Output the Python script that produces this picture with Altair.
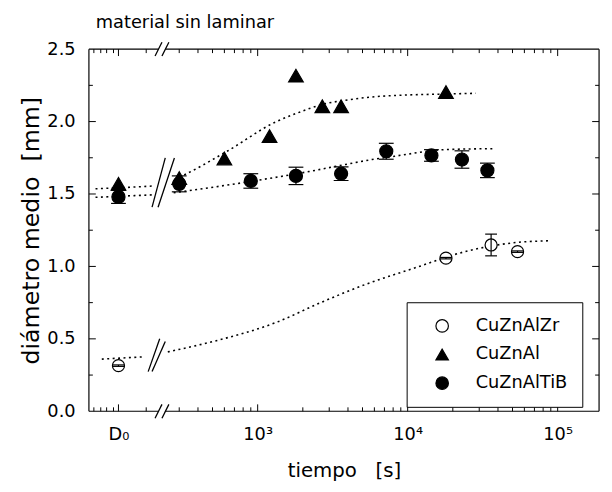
import math
import altair as alt
import pandas as pd

# ---------------- layout of the broken log axis ----------------
W, H = 517, 367
X_DOMAIN = [1.875, 5.276]      # log10(t) axis units
Y_DOMAIN = [0.0, 2.5]
D0_POS = 2.072                 # position of the "D0" column on the axis
GAP = [2.339, 2.385]           # gap in the frame lines at the axis break

SERIES = ["CuZnAlZr", "CuZnAl", "CuZnAlTiB"]

# ---------------- measured points (t in s, 0 = D0) ----------------
ZR_T = [0, 18000, 36000, 54000]
ZR_D = [0.315, 1.057, 1.148, 1.102]
ZR_E = [0.005, 0.005, 0.075, 0.005]

AL_T = [0, 300, 600, 1200, 1800, 2700, 3600, 18000]
AL_D = [1.57, 1.61, 1.745, 1.90, 2.317, 2.106, 2.106, 2.204]

TIB_T = [0, 300, 900, 1800, 3600, 7200, 14400, 23000, 34000]
TIB_D = [1.48, 1.57, 1.59, 1.625, 1.64, 1.795, 1.766, 1.738, 1.663]
TIB_E = [0.045, 0.055, 0.05, 0.06, 0.047, 0.055, 0.04, 0.06, 0.05]

# ---------------- dotted fit curves (axis position, value) ----------------
AL_FIT_L_X = [1.919, 2.118, 2.316]
AL_FIT_L_Y = [1.536, 1.545, 1.556]
AL_FIT_R_X = [2.445, 2.487, 2.796, 3.125, 3.257, 3.454, 3.586, 3.763, 3.914, 4.243, 4.454]
AL_FIT_R_Y = [1.60, 1.62, 1.795, 2.00, 2.056, 2.124, 2.147, 2.17, 2.18, 2.19, 2.195]

TIB_FIT_L_X = [1.919, 2.118, 2.316]
TIB_FIT_L_Y = [1.477, 1.486, 1.495]
TIB_FIT_R_X = [2.44, 2.906, 3.342, 3.586, 3.763, 3.914, 4.243, 4.572]
TIB_FIT_R_Y = [1.508, 1.579, 1.655, 1.704, 1.738, 1.761, 1.806, 1.813]

ZR_FIT_L_X = [1.961, 2.1, 2.248]
ZR_FIT_L_Y = [0.36, 0.368, 0.376]
ZR_FIT_R_X = [2.401, 2.730, 3.125, 3.42, 3.717, 4.046, 4.375, 4.704, 4.947]
ZR_FIT_R_Y = [0.41, 0.489, 0.614, 0.75, 0.875, 0.989, 1.10, 1.163, 1.177]

# ---------------- break marks (x1, y1, x2, y2) in axis units ----------------
CURVE_BREAKS = [
    (2.296, 1.409, 2.384, 1.749),
    (2.336, 1.409, 2.445, 1.749),
    (2.270, 0.274, 2.347, 0.501),
    (2.296, 0.274, 2.384, 0.482),
]
AXIS_BREAK_X = [(2.316, 2.362), (2.362, 2.408)]
AXIS_BREAK_DY = 0.0477

# ---------------- axis ticks ----------------
X_LABEL_POS = [D0_POS, 3, 4, 5]
X_MAJOR = [D0_POS, 3, 4, 5]
X_MINOR_D0 = [1.908, 1.954, 1.993, 2.039, 2.257]
X_MINOR_T = [300, 400, 500, 600, 700, 800, 900,
             2000, 3000, 4000, 5000, 6000, 7000, 8000, 9000,
             20000, 30000, 40000, 50000, 60000, 70000, 80000, 90000]
Y_LABELS = [0.0, 0.5, 1.0, 1.5, 2.0, 2.5]
Y_MAJOR = [0.5, 1.0, 1.5, 2.0]
Y_MINOR = [0.25, 0.75, 1.25, 1.75, 2.25]

FONT = "DejaVu Sans"
LX = f"datum.t == 0 ? {D0_POS} : log(datum.t) / LN10"

XS = alt.Scale(domain=X_DOMAIN, nice=False, zero=False)
YS = alt.Scale(domain=Y_DOMAIN, nice=False, zero=False)
XAX = alt.Axis(values=X_LABEL_POS,
               labelExpr="datum.value == 3 ? '10³' : datum.value == 4 ? '10⁴' : datum.value == 5 ? '10⁵' : 'D₀'",
               ticks=False, tickSize=0, domain=False, grid=False,
               labelPadding=15, labelFont=FONT, labelFontSize=18, labelColor="black",
               title="tiempo\u00a0\u00a0\u00a0[s]", titleFont=FONT, titleFontSize=20,
               titleFontWeight="normal", titleColor="black", titlePadding=17)
YAX = alt.Axis(values=Y_LABELS, format=".1f",
               ticks=False, tickSize=0, domain=False, grid=False,
               labelPadding=14, labelFont=FONT, labelFontSize=18, labelColor="black",
               title="diámetro medio\u00a0\u00a0[mm]", titleFont=FONT, titleFontSize=24,
               titleFontWeight="normal", titleColor="black", titlePadding=3)


def X(field):
    return alt.X(field, type="quantitative", scale=XS, axis=XAX)


def Y(field):
    return alt.Y(field, type="quantitative", scale=YS, axis=YAX)


# ---------------- data tables ----------------
rows = []
for t, d in zip(AL_T, AL_D):
    rows.append(dict(series="CuZnAl", t=t, d=d, err=0.0, cap=0, msize=220))
for t, d, e in zip(TIB_T, TIB_D, TIB_E):
    rows.append(dict(series="CuZnAlTiB", t=t, d=d, err=e, cap=15, msize=175))
for t, d, e in zip(ZR_T, ZR_D, ZR_E):
    rows.append(dict(series="CuZnAlZr", t=t, d=d, err=e, cap=12, msize=150))
pts = pd.DataFrame(rows)

fit_rows = []
for name, xs, ys in [("al_l", AL_FIT_L_X, AL_FIT_L_Y), ("al_r", AL_FIT_R_X, AL_FIT_R_Y),
                     ("tib_l", TIB_FIT_L_X, TIB_FIT_L_Y), ("tib_r", TIB_FIT_R_X, TIB_FIT_R_Y),
                     ("zr_l", ZR_FIT_L_X, ZR_FIT_L_Y), ("zr_r", ZR_FIT_R_X, ZR_FIT_R_Y)]:
    for x, y in zip(xs, ys):
        fit_rows.append(dict(seg=name, x=x, v=y))
fits = pd.DataFrame(fit_rows)

brk = pd.DataFrame(CURVE_BREAKS, columns=["x1", "y1", "x2", "y2"])
ax_brk_rows = []
for xa, xb in AXIS_BREAK_X:
    for y0 in Y_DOMAIN:
        ax_brk_rows.append(dict(x1=xa, y1=y0 - AXIS_BREAK_DY, x2=xb, y2=y0 + AXIS_BREAK_DY))
ax_brk = pd.DataFrame(ax_brk_rows)

frame_h = pd.DataFrame({"a": [X_DOMAIN[0], GAP[1]], "b": [GAP[0], X_DOMAIN[1]]})

x_minor = X_MINOR_D0 + [math.log10(t) for t in X_MINOR_T]

NB = "\u00a0"
LEG = alt.Legend(title=None, orient="none", legendX=322, legendY=256.5, padding=15,
                 strokeColor="black", fillColor="white",
                 labelFont=FONT, labelFontSize=18, labelColor="black",
                 symbolSize=160, symbolStrokeColor="black", symbolStrokeWidth=1.2,
                 rowPadding=11, labelOffset=25, symbolOffset=12,
                 labelExpr=f"datum.label + '{NB * 6}'")

# ---------------- layers ----------------
curves = alt.Chart(fits).mark_line(color="black", strokeDash=[2, 3.5], strokeWidth=1.6,
                                   interpolate="monotone").encode(
    x=X("x"), y=Y("v"), detail="seg:N")

curve_breaks = alt.Chart(brk).mark_rule(color="black", strokeWidth=1.3).encode(
    x=X("x1"), y=Y("y1"), x2="x2:Q", y2="y2:Q")

axis_breaks = alt.Chart(ax_brk).mark_rule(color="black", strokeWidth=1.3).encode(
    x=X("x1"), y=Y("y1"), x2="x2:Q", y2="y2:Q")

frame_top = alt.Chart(frame_h).mark_rule(color="black", strokeWidth=1.2).encode(
    x=X("a"), x2="b:Q", y=alt.value(0))
frame_bottom = alt.Chart(frame_h).mark_rule(color="black", strokeWidth=1.2).encode(
    x=X("a"), x2="b:Q", y=alt.value(H))
frame_left = alt.Chart(pd.DataFrame({"k": [0]})).mark_rule(color="black", strokeWidth=1.2).encode(
    x=alt.value(0), y=alt.value(0), y2=alt.value(H))
frame_right = alt.Chart(pd.DataFrame({"k": [0]})).mark_rule(color="black", strokeWidth=1.2).encode(
    x=alt.value(W), y=alt.value(0), y2=alt.value(H))


def xticks(pos, length):
    df = pd.DataFrame({"p": pos})
    b = alt.Chart(df).mark_rule(color="black", strokeWidth=1).encode(
        x=X("p"), y=alt.value(H), y2=alt.value(H - length))
    t = alt.Chart(df).mark_rule(color="black", strokeWidth=1).encode(
        x=X("p"), y=alt.value(0), y2=alt.value(length))
    return [b, t]


def yticks(pos, length):
    df = pd.DataFrame({"p": pos})
    l = alt.Chart(df).mark_rule(color="black", strokeWidth=1).encode(
        y=Y("p"), x=alt.value(0), x2=alt.value(length))
    r = alt.Chart(df).mark_rule(color="black", strokeWidth=1).encode(
        y=Y("p"), x=alt.value(W), x2=alt.value(W - length))
    return [l, r]


ticks = xticks(X_MAJOR, 7) + xticks(x_minor, 4) + yticks(Y_MAJOR, 7) + yticks(Y_MINOR, 4)

points = alt.Chart(pts).transform_calculate(lx=LX).mark_point(
    filled=True, strokeWidth=1.2, opacity=1).encode(
    x=X("lx"), y=Y("d"),
    size=alt.Size("msize:Q", scale=None),
    shape=alt.Shape("series:N", scale=alt.Scale(domain=SERIES, range=["circle", "triangle-up", "circle"]),
                    legend=LEG),
    fill=alt.Fill("series:N", scale=alt.Scale(domain=SERIES, range=["white", "black", "black"]),
                  legend=LEG),
    stroke=alt.Stroke("series:N", scale=alt.Scale(domain=SERIES, range=["black", "black", "black"]),
                      legend=LEG),
)

errs = alt.Chart(pts).transform_filter("datum.err > 0").transform_calculate(
    lx=LX, lo="datum.d - datum.err", hi="datum.d + datum.err")
err_lines = errs.mark_rule(color="black", strokeWidth=1.2).encode(
    x=X("lx"), y=Y("lo"), y2="hi:Q")
err_caps = errs.transform_fold(["lo", "hi"], as_=["end", "yv"]).mark_tick(
    orient="horizontal", thickness=1.2, color="black", opacity=1).encode(
    x=X("lx"), y=Y("yv"), size=alt.Size("cap:Q", scale=None))

chart = alt.layer(
    curves, curve_breaks, axis_breaks, frame_top, frame_bottom, frame_left, frame_right,
    *ticks, points, err_lines, err_caps
).properties(
    width=W, height=H,
    title=alt.Title("material sin laminar", anchor="start", frame="group", dx=7, offset=8,
                    font=FONT, fontSize=18, fontWeight="normal", color="black"),
    padding={"left": 82, "top": 38.5, "right": 5, "bottom": 70},
    autosize=alt.AutoSizeParams(type="none"),
).configure_view(stroke=None)

chart.save("out.html", embed_options={"renderer": "svg", "actions": False})
